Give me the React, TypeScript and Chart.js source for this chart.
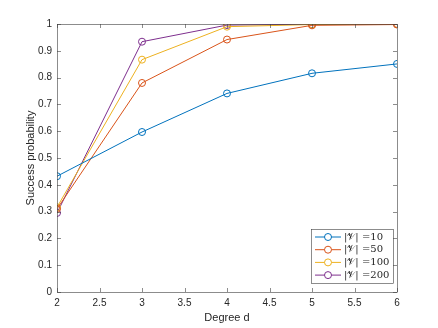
import React, { useEffect, useRef } from "react";
import { Chart, registerables } from "chart.js";

Chart.register(...registerables);

const degrees = [2, 3, 4, 5, 6];
const labels = ["|𝒱| =10", "|𝒱| =50", "|𝒱| =100", "|𝒱| =200"];
const v10 = [0.432, 0.597, 0.741, 0.816, 0.851];
const v50 = [0.31, 0.78, 0.942, 0.995, 0.998];
const v100 = [0.316, 0.867, 0.99, 0.998, 1.0];
const v200 = [0.295, 0.934, 0.996, 0.999, 1.0];
const colors = ["#0072BD", "#D95319", "#EDB120", "#7E2F8E"];
const xTicks = [2, 2.5, 3, 3.5, 4, 4.5, 5, 5.5, 6];
const yTicks = [0, 0.1, 0.2, 0.3, 0.4, 0.5, 0.6, 0.7, 0.8, 0.9, 1];

const FONT = "'Liberation Sans', Arial, sans-serif";

const boxPlugin = {
  id: "matlabBox",
  afterDatasetsDraw(chart: any) {
    const { ctx, chartArea } = chart;
    const { left, right, top, bottom } = chartArea;
    const xs = chart.scales.x;
    const ys = chart.scales.y;
    ctx.save();
    ctx.strokeStyle = "#404040";
    ctx.lineWidth = 0.6;
    ctx.strokeRect(left + 0.5, top + 0.5, right - left, bottom - top);
    ctx.beginPath();
    const tl = 4;
    xTicks.forEach((t) => {
      const px = Math.round(xs.getPixelForValue(t)) + 0.5;
      ctx.moveTo(px, bottom);
      ctx.lineTo(px, bottom - tl);
      ctx.moveTo(px, top);
      ctx.lineTo(px, top + tl);
    });
    yTicks.forEach((t) => {
      const py = Math.round(ys.getPixelForValue(t)) + 0.5;
      ctx.moveTo(left, py);
      ctx.lineTo(left + tl, py);
      ctx.moveTo(right, py);
      ctx.lineTo(right - tl, py);
    });
    ctx.stroke();

    // legend
    const lw = 82, lh = 54;
    const lx = right - 4 - lw;
    const ly = bottom - 9 - lh;
    ctx.fillStyle = "#ffffff";
    ctx.fillRect(lx, ly, lw, lh);
    ctx.strokeStyle = "#404040";
    ctx.lineWidth = 0.6;
    ctx.strokeRect(lx + 0.5, ly + 0.5, lw, lh);
    ctx.font = "10px 'DejaVu Serif', 'DejaVu Sans', serif";
    ctx.textBaseline = "middle";
    chart.data.datasets.forEach((ds: any, i: number) => {
      const cy = ly + 8 + i * 12.7;
      ctx.strokeStyle = ds.borderColor;
      ctx.lineWidth = 1;
      ctx.beginPath();
      ctx.moveTo(lx + 4, cy);
      ctx.lineTo(lx + 30, cy);
      ctx.stroke();
      ctx.beginPath();
      ctx.arc(lx + 17, cy, 3.5, 0, Math.PI * 2);
      ctx.fillStyle = "#fff";
      ctx.fill();
      ctx.stroke();
      ctx.fillStyle = "#262626";
      ctx.fillText(ds.label, lx + 33, cy);
    });
    ctx.restore();
  },
};

export default function App() {
  const ref = useRef<HTMLCanvasElement>(null);
  useEffect(() => {
    const series = [v10, v50, v100, v200];
    const chart = new Chart(ref.current!, {
      type: "line",
      data: {
        datasets: series.map((s, i) => ({
          label: labels[i],
          data: s.map((v, j) => ({ x: degrees[j], y: v })),
          borderColor: colors[i],
          backgroundColor: "rgba(0,0,0,0)",
          borderWidth: 1,
          pointRadius: 3.5,
          pointBorderWidth: 1,
          pointStyle: "circle",
          tension: 0,
        })),
      },
      options: {
        responsive: false,
        animation: false,
        layout: { padding: { left: 0, right: 41, top: 24, bottom: 0 } },
        plugins: { legend: { display: false }, tooltip: { enabled: false } },
        scales: {
          x: {
            type: "linear",
            min: 2,
            max: 6,
            afterFit: (s: any) => { s.height = 36; },
            afterBuildTicks: (s: any) => { s.ticks = xTicks.map((v) => ({ value: v })); },
            grid: { display: false, drawTicks: false },
            border: { display: false },
            ticks: { padding: 5, color: "#262626", font: { family: FONT, size: 10 }, maxRotation: 0, callback: (v: any) => String(v) },
            title: { display: true, text: "Degree d", color: "#262626", font: { family: FONT, size: 11 }, padding: { top: 2, bottom: 3 } },
          },
          y: {
            min: 0,
            max: 1,
            afterFit: (s: any) => { s.width = 57; },
            afterBuildTicks: (s: any) => { s.ticks = yTicks.map((v) => ({ value: v })); },
            grid: { display: false, drawTicks: false },
            border: { display: false },
            ticks: { padding: 5, color: "#262626", font: { family: FONT, size: 10 }, callback: (v: any) => String(Math.round(v * 10) / 10) },
            title: { display: true, text: "Success probability", color: "#262626", font: { family: FONT, size: 11 }, padding: { top: 24, bottom: 0 } },
          },
        },
      },
      plugins: [boxPlugin],
    });
    return () => chart.destroy();
  }, []);
  return (
    <div style={{ position: "fixed", left: 0, top: 0, width: 438, height: 328, background: "#fff" }}>
      <canvas ref={ref} width={438} height={328} />
    </div>
  );
}
